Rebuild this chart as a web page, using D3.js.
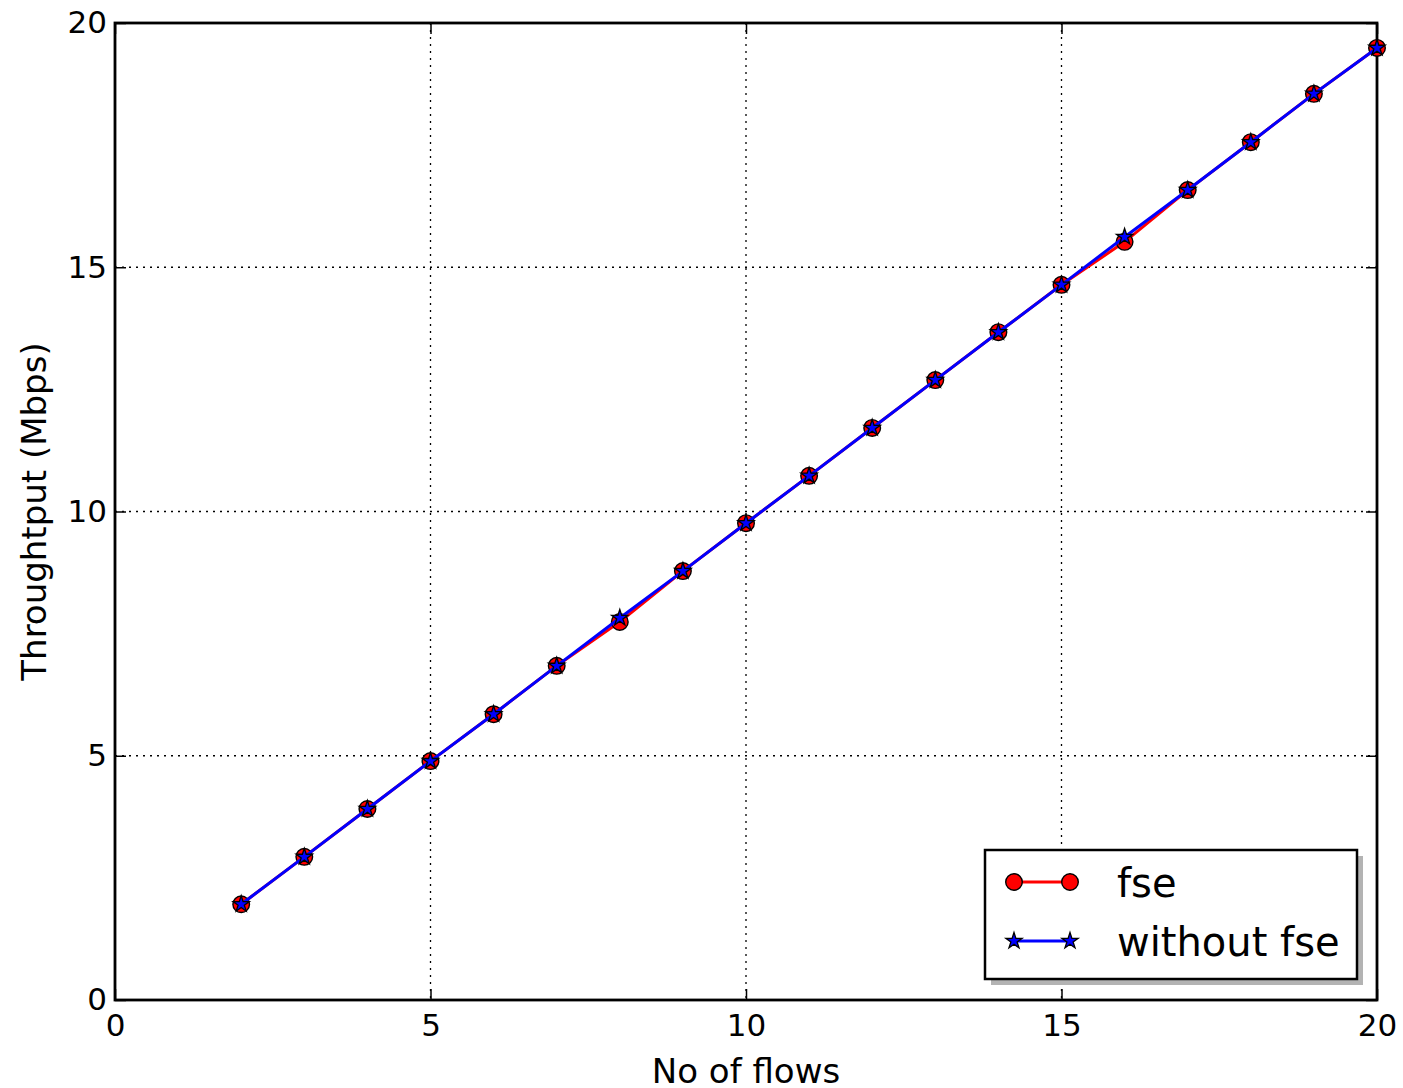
<!DOCTYPE html>
<html>
<head>
<meta charset="utf-8">
<script src="https://cdn.jsdelivr.net/npm/d3@7"></script>
<style>
  html, body { margin: 0; padding: 0; background: #fff; }
  svg { display: block; font-family: "DejaVu Sans", sans-serif; }
</style>
</head>
<body>
<svg id="chart" width="1403" height="1088"></svg>
<script>
// Number of flows on the x axis
const flows = [2, 3, 4, 5, 6, 7, 8, 9, 10, 11, 12, 13, 14, 15, 16, 17, 18, 19, 20];
// Measured throughput (Mbps) with FSE
const fseValues = [1.96, 2.93, 3.91, 4.89, 5.85, 6.84, 7.74, 8.78, 9.76, 10.73, 11.71, 12.69, 13.67, 14.64, 15.52, 16.58, 17.56, 18.55, 19.49];
// Measured throughput (Mbps) without FSE
const noFseValues = [1.96, 2.93, 3.91, 4.89, 5.85, 6.84, 7.82, 8.78, 9.76, 10.73, 11.71, 12.69, 13.67, 14.64, 15.62, 16.58, 17.56, 18.55, 19.49];
const xTicks = [0, 5, 10, 15, 20];
const yTicks = [0, 5, 10, 15, 20];
const seriesNames = ["fse", "without fse"];

(function () {
  const svg = d3.select("#chart");
  const pLeft = 115, pRight = 1377, pTop = 23, pBottom = 1000;

  const x = d3.scaleLinear().domain([0, 20]).range([pLeft, pRight]);
  const y = d3.scaleLinear().domain([0, 20]).range([pBottom, pTop]);

  // dotted grid
  const grid = svg.append("g");
  grid.selectAll(".gx").data(xTicks).enter().append("line")
    .attr("x1", d => x(d)).attr("x2", d => x(d))
    .attr("y1", pTop).attr("y2", pBottom)
    .attr("stroke", "#000").attr("stroke-width", 1.3).attr("stroke-dasharray", "2,5");
  grid.selectAll(".gy").data(yTicks).enter().append("line")
    .attr("x1", pLeft).attr("x2", pRight)
    .attr("y1", d => y(d)).attr("y2", d => y(d))
    .attr("stroke", "#000").attr("stroke-width", 1.3).attr("stroke-dasharray", "2,5");

  // axes with inward ticks on all four sides
  const fontSize = 31;
  const tickLen = 11;
  const axB = svg.append("g").attr("transform", `translate(0,${pBottom})`)
    .call(d3.axisBottom(x).tickValues(xTicks).tickSizeInner(-tickLen).tickSizeOuter(0).tickPadding(13));
  const axT = svg.append("g").attr("transform", `translate(0,${pTop})`)
    .call(d3.axisTop(x).tickValues(xTicks).tickSizeInner(-tickLen).tickSizeOuter(0).tickFormat(""));
  const axL = svg.append("g").attr("transform", `translate(${pLeft},0)`)
    .call(d3.axisLeft(y).tickValues(yTicks).tickSizeInner(-tickLen).tickSizeOuter(0).tickPadding(8));
  const axR = svg.append("g").attr("transform", `translate(${pRight},0)`)
    .call(d3.axisRight(y).tickValues(yTicks).tickSizeInner(-tickLen).tickSizeOuter(0).tickFormat(""));
  [axB, axT, axL, axR].forEach(a => {
    a.select(".domain").remove();
    a.selectAll(".tick line").attr("stroke", "#000").attr("stroke-width", 1.5);
    a.selectAll("text").attr("font-size", fontSize).attr("fill", "#000")
      .attr("font-family", "DejaVu Sans");
  });
  axB.selectAll("text").attr("dy", "0.73em");

  // frame
  svg.append("rect").attr("x", pLeft).attr("y", pTop)
    .attr("width", pRight - pLeft).attr("height", pBottom - pTop)
    .attr("fill", "none").attr("stroke", "#000").attr("stroke-width", 2.8);

  // axis titles
  svg.append("text").attr("x", (pLeft + pRight) / 2).attr("y", 1083)
    .attr("text-anchor", "middle").attr("font-size", 34).text("No of flows");
  svg.append("text").attr("transform", `translate(46,${(pTop + pBottom) / 2}) rotate(-90)`)
    .attr("text-anchor", "middle").attr("font-size", 34).text("Throughtput (Mbps)");

  const starPath = d3.symbol().type(d3.symbolStar).size(82);

  // series
  const lineGen = vals => d3.line().x((d, i) => x(flows[i])).y(d => y(d))(vals);
  const plot = svg.append("g");
  plot.append("path").attr("d", lineGen(fseValues))
    .attr("fill", "none").attr("stroke", "#ff0000").attr("stroke-width", 3);
  plot.selectAll(".fse").data(fseValues).enter().append("circle")
    .attr("cx", (d, i) => x(flows[i])).attr("cy", d => y(d)).attr("r", 8.3)
    .attr("fill", "#ff0000").attr("stroke", "#000").attr("stroke-width", 1.4);
  plot.append("path").attr("d", lineGen(noFseValues))
    .attr("fill", "none").attr("stroke", "#0000ff").attr("stroke-width", 3);
  plot.selectAll(".nofse").data(noFseValues).enter().append("path")
    .attr("d", starPath)
    .attr("transform", (d, i) => `translate(${x(flows[i])},${y(d)})`)
    .attr("fill", "#0000ff").attr("stroke", "#000").attr("stroke-width", 1.3);

  // legend with drop shadow
  const lg = svg.append("g");
  const lx = 985, ly = 850, lw = 372, lh = 129;
  lg.append("rect").attr("x", lx + 6).attr("y", ly + 6).attr("width", lw).attr("height", lh)
    .attr("fill", "#b3b3b3");
  lg.append("rect").attr("x", lx).attr("y", ly).attr("width", lw).attr("height", lh)
    .attr("fill", "#fff").attr("stroke", "#000").attr("stroke-width", 2.5);
  const rows = [
    { name: seriesNames[0], color: "#ff0000", yy: 882, marker: "circle" },
    { name: seriesNames[1], color: "#0000ff", yy: 941, marker: "star" }
  ];
  rows.forEach(r => {
    lg.append("line").attr("x1", 1014).attr("x2", 1070).attr("y1", r.yy).attr("y2", r.yy)
      .attr("stroke", r.color).attr("stroke-width", 3);
    [1014, 1070].forEach(cx => {
      if (r.marker === "circle") {
        lg.append("circle").attr("cx", cx).attr("cy", r.yy).attr("r", 8.3)
          .attr("fill", r.color).attr("stroke", "#000").attr("stroke-width", 1.4);
      } else {
        lg.append("path").attr("d", starPath).attr("transform", `translate(${cx},${r.yy})`)
          .attr("fill", r.color).attr("stroke", "#000").attr("stroke-width", 1.3);
      }
    });
    lg.append("text").attr("x", 1117).attr("y", r.yy).attr("dy", "0.37em")
      .attr("font-size", 40).text(r.name);
  });
})();
</script>
</body>
</html>
